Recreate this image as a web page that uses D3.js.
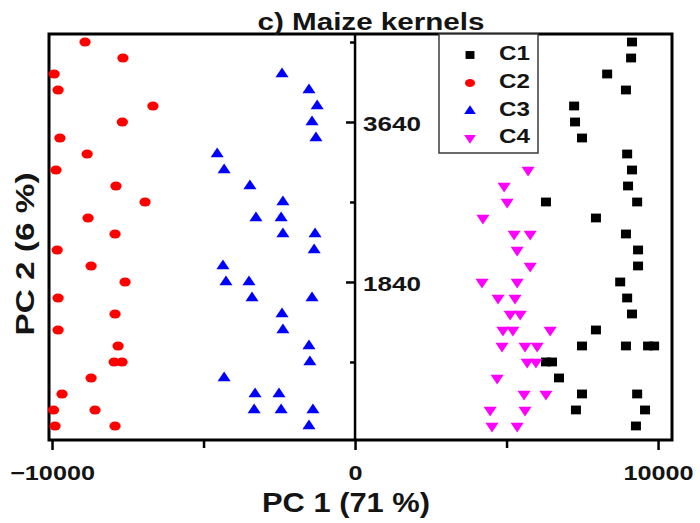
<!DOCTYPE html>
<html>
<head>
<meta charset="utf-8">
<script src="https://cdn.jsdelivr.net/npm/d3@7"></script>
<style>
  html, body { margin: 0; padding: 0; background: #fff; }
  svg { display: block; }
  text { font-family: "Liberation Sans", Arial, sans-serif; font-weight: bold; fill: #141414; }
</style>
</head>
<body>
<svg id="chart" width="700" height="523"></svg>
<script>
// PCA scores, [PC1, PC2] per sample, grouped by cluster
const c1 = [[9140,4540],[9110,4360],[8320,4180],[8940,4000],[7230,3820],[7260,3640],[7490,3460],[8980,3280],
  [9140,3100],[9010,2920],[6300,2740],[9310,2740],[7950,2560],[8940,2380],[9340,2200],[9340,2020],[8750,1840],
  [8980,1660],[9140,1480],[7950,1300],[7490,1120],[8940,1120],[9670,1120],[9870,1120],[6300,940],[6500,940],
  [6730,760],[7490,580],[9310,580],[7290,400],[9570,400],[9270,220]];
const c2 = [[-8910,4540],[-7660,4360],[-9930,4180],[-9800,4000],[-6670,3820],[-7680,3640],[-9740,3460],[-8840,3280],
  [-9870,3100],[-7890,2920],[-6930,2740],[-8810,2560],[-7920,2380],[-9830,2200],[-8710,2020],[-7590,1840],
  [-9800,1660],[-7920,1480],[-9800,1300],[-7820,1120],[-7950,940],[-7690,940],[-8710,760],[-9670,580],
  [-9950,400],[-8580,400],[-9900,220],[-7920,220]];
const c3 = [[-2410,4180],[-1520,4000],[-1250,3820],[-1420,3640],[-1290,3460],[-4550,3280],[-4320,3100],[-3470,2920],
  [-2380,2740],[-3270,2560],[-2440,2560],[-2380,2380],[-1320,2380],[-1350,2200],[-4360,2020],[-4260,1840],
  [-3500,1840],[-3400,1660],[-1420,1660],[-2410,1480],[-2380,1300],[-1520,1120],[-1490,940],[-4320,760],
  [-3300,580],[-2510,580],[-3330,400],[-2440,400],[-1390,400],[-1520,220]];
const c4 = [[5710,3100],[4920,2920],[5020,2740],[4220,2560],[5250,2380],[5780,2380],[5350,2200],[5780,2020],
  [4190,1840],[5350,1840],[4720,1660],[5280,1660],[5120,1480],[5450,1480],[4880,1300],[5210,1300],[6440,1300],
  [4850,1120],[5610,1120],[6010,1120],[5680,940],[5970,940],[4690,760],[5580,580],[6300,580],[4460,400],
  [5610,400],[4520,220],[5350,220]];

const seriesNames = ["C1", "C2", "C3", "C4"];
const xTicks = [-10000, -5000, 0, 5000, 10000];
const xTickLabels = [-10000, 0, 10000];
const yTicks = [4540, 3640, 2740, 1840, 940];
const yTickLabels = [3640, 1840];

const svg = d3.select("#chart");
const plot = { left: 49, right: 672, top: 34, bottom: 440 };

const x = d3.scaleLinear().domain([-10100, 10460]).range([plot.left, plot.right]);
const y = d3.scaleLinear().domain([62, 4630]).range([plot.bottom, plot.top]);

const styles = [
  { data: c1, type: d3.symbolSquare,   size: 64, color: "#000000", sx: 1.25, sy: 1.1 },
  { data: c2, type: d3.symbolCircle,   size: 64, color: "#ff0000", sx: 1.25, sy: 1.0 },
  { data: c3, type: d3.symbolTriangle, size: 56, color: "#0000ff", sx: 1.15, sy: 1.0 },
  { data: c4, type: d3.symbolTriangle, size: 56, color: "#ff00ff", sx: 1.15, sy: -1.0 }
];

// widen text horizontally by a factor, keeping its anchor
function widen(sel, factor) {
  sel.each(function () {
    const w = this.getComputedTextLength();
    if (w > 0) d3.select(this).attr("textLength", w * factor).attr("lengthAdjust", "spacingAndGlyphs");
  });
}

// plot frame
svg.append("rect")
  .attr("x", plot.left).attr("y", plot.top)
  .attr("width", plot.right - plot.left).attr("height", plot.bottom - plot.top)
  .attr("fill", "#fff").attr("stroke", "#000").attr("stroke-width", 3);

// markers
styles.forEach(s => {
  const sym = d3.symbol().type(s.type).size(s.size)();
  svg.append("g").selectAll("path")
    .data(s.data)
    .join("path")
    .attr("d", sym)
    .attr("fill", s.color)
    .attr("transform", d => `translate(${x(d[0])},${y(d[1])}) scale(${s.sx},${s.sy})`);
});

// bottom axis
const xAxis = svg.append("g")
  .attr("transform", `translate(0,${plot.bottom})`)
  .call(d3.axisBottom(x).tickValues(xTicks)
    .tickFormat(d => xTickLabels.includes(d) ? d3.format("d")(d) : "")
    .tickSizeInner(9).tickSizeOuter(0).tickPadding(16));
xAxis.select(".domain").remove();
xAxis.selectAll(".tick line").attr("stroke", "#000").attr("stroke-width", 2.5)
  .attr("y2", d => xTickLabels.includes(d) ? 10 : 8);
xAxis.selectAll(".tick text").attr("font-size", 21).attr("fill", "#141414")
  .attr("font-family", "Liberation Sans").attr("font-weight", "bold")
  .call(widen, 1.2);

// central vertical axis, labels on its right side
const yAxis = svg.append("g")
  .attr("transform", `translate(${x(0)},0)`)
  .call(d3.axisRight(y).tickValues(yTicks)
    .tickFormat(d => yTickLabels.includes(d) ? d : "")
    .tickSizeInner(-9).tickSizeOuter(0).tickPadding(8));
yAxis.select(".domain").attr("stroke", "#000").attr("stroke-width", 2.5)
  .attr("d", `M0,${plot.top}V${plot.bottom}`);
yAxis.selectAll(".tick line").attr("stroke", "#000").attr("stroke-width", 2.5)
  .attr("x2", d => yTickLabels.includes(d) ? -9 : -5);
yAxis.selectAll(".tick text").attr("font-size", 21).attr("fill", "#141414")
  .attr("font-family", "Liberation Sans").attr("font-weight", "bold").attr("dy", "0.42em")
  .call(widen, 1.24);

// legend
const legend = svg.append("g");
legend.append("rect")
  .attr("x", 439).attr("y", plot.top).attr("width", 99).attr("height", 119)
  .attr("fill", "#fff").attr("stroke", "#3a3a3a").attr("stroke-width", 1.5);
const legendRows = [55, 83, 111, 138];
styles.forEach((s, i) => {
  legend.append("path")
    .attr("d", d3.symbol().type(s.type).size(s.size * 0.8)())
    .attr("fill", s.color)
    .attr("transform", `translate(470,${legendRows[i]}) scale(${s.sx},${s.sy})`);
  legend.append("text")
    .attr("x", 499).attr("y", legendRows[i] + 5)
    .attr("font-size", 21)
    .text(seriesNames[i])
    .call(widen, 1.15);
});

// titles
svg.append("text")
  .attr("x", 371).attr("y", 30)
  .attr("text-anchor", "middle").attr("font-size", 23)
  .attr("textLength", 227).attr("lengthAdjust", "spacingAndGlyphs")
  .text("c) Maize kernels");

svg.append("text")
  .attr("x", 346).attr("y", 512)
  .attr("text-anchor", "middle").attr("font-size", 27)
  .attr("textLength", 168).attr("lengthAdjust", "spacingAndGlyphs")
  .text("PC 1 (71 %)");

svg.append("text")
  .attr("transform", "translate(34,254) rotate(-90)")
  .attr("text-anchor", "middle").attr("font-size", 25)
  .attr("textLength", 163).attr("lengthAdjust", "spacingAndGlyphs")
  .text("PC 2 (6 %)");
</script>
</body>
</html>
